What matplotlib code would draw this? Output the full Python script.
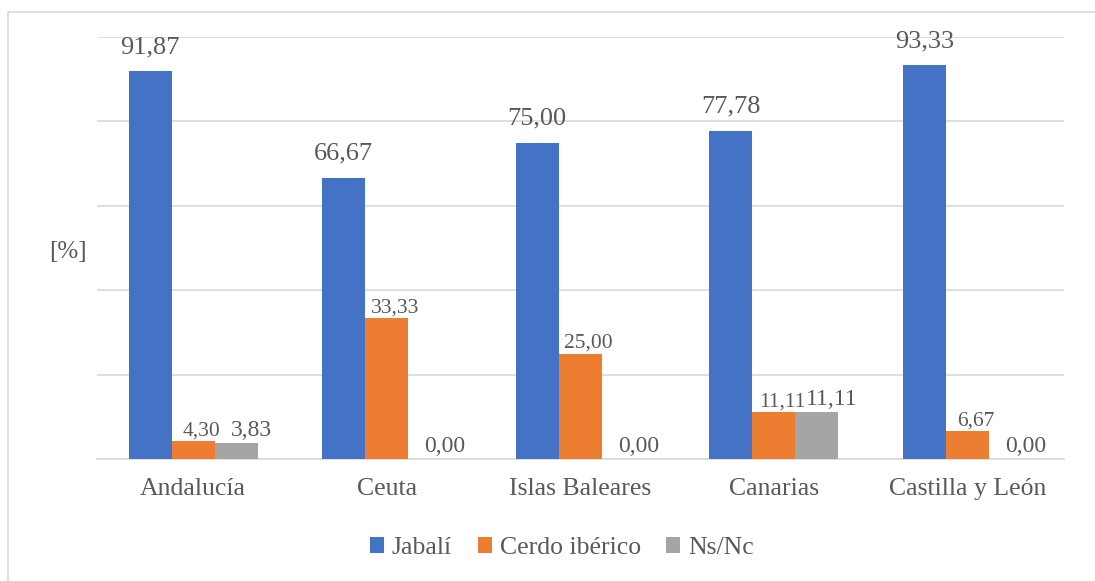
import numpy as np
import matplotlib.pyplot as plt
from matplotlib.patches import Rectangle, Patch

# Data
categories = ["Andalucía", "Ceuta", "Islas Baleares", "Canarias", "Castilla y León"]
series_names = ["Jabalí", "Cerdo ibérico", "Ns/Nc"]
jabali = [91.87, 66.67, 75.00, 77.78, 93.33]
cerdo = [4.30, 33.33, 25.00, 11.11, 6.67]
nsnc = [3.83, 0.00, 0.00, 11.11, 0.00]

colors = ["#4472C4", "#ED7D31", "#A5A5A5"]
text_color = "#595959"
grid_color = "#D9D9D9"

plt.rcParams['font.family'] = ['Liberation Serif', 'DejaVu Serif']

fig = plt.figure(figsize=(10.95, 5.81), dpi=100)
W, H = 1095, 581
ax = fig.add_axes([96.5 / W, 122 / H, (1064 - 96.5) / W, (459 - 37) / H])

# outer frame (only left/top visible in the reference)
fig.patches.append(Rectangle((8 / W, -0.1), 1.2, (581 - 12) / H + 0.1,
                             transform=fig.transFigure, fill=False,
                             edgecolor=grid_color, linewidth=1.2))

x = np.arange(len(categories))
width = 0.222
all_series = [jabali, cerdo, nsnc]
offsets = [-width, 0, width]

for vals, off, col in zip(all_series, offsets, colors):
    ax.bar(x + off, vals, width=width, color=col, zorder=3)


def fmt(v):
    return f"{v:.2f}".replace(".", ",")


# Data labels
for i, v in enumerate(jabali):
    ax.annotate(fmt(v), (x[i] - width, v), xytext=(0, 13), textcoords="offset points",
                ha="center", va="baseline", fontsize=19, color=text_color)
for i, v in enumerate(cerdo):
    ax.annotate(fmt(v), (x[i], v), xytext=(6, 4), textcoords="offset points",
                ha="center", va="baseline", fontsize=15.5, color=text_color)
for i, v in enumerate(nsnc):
    ax.annotate(fmt(v), (x[i] + width, v), xytext=(11, 5), textcoords="offset points",
                ha="center", va="baseline", fontsize=17, color=text_color)

ax.set_xlim(-0.5, len(categories) - 0.5)
ax.set_ylim(0, 100)
ax.set_yticks(np.arange(0, 101, 20))
ax.set_yticklabels([])
ax.yaxis.grid(True, color=grid_color, linewidth=1.2, zorder=0)
ax.tick_params(axis="both", length=0)
ax.set_xticks(x)
ax.set_xticklabels(categories, fontsize=18.5, color=text_color)
ax.tick_params(axis="x", pad=14)
for s in ["top", "right", "left"]:
    ax.spines[s].set_visible(False)
ax.spines["bottom"].set_color(grid_color)
ax.spines["bottom"].set_linewidth(1.2)

fig.text(68 / W, 1 - 252 / H, "[%]", ha="center", va="center",
         fontsize=18, color=text_color)

handles = [Patch(facecolor=c) for c in colors]
fig.legend(handles, series_names, loc="center", bbox_to_anchor=(562 / W, 33 / H),
           ncol=3, frameon=False, fontsize=18.5, labelcolor=text_color,
           handlelength=0.55, handleheight=0.55, handletextpad=0.3, columnspacing=1.0)

plt.savefig("out.png", dpi=100, facecolor="white")
